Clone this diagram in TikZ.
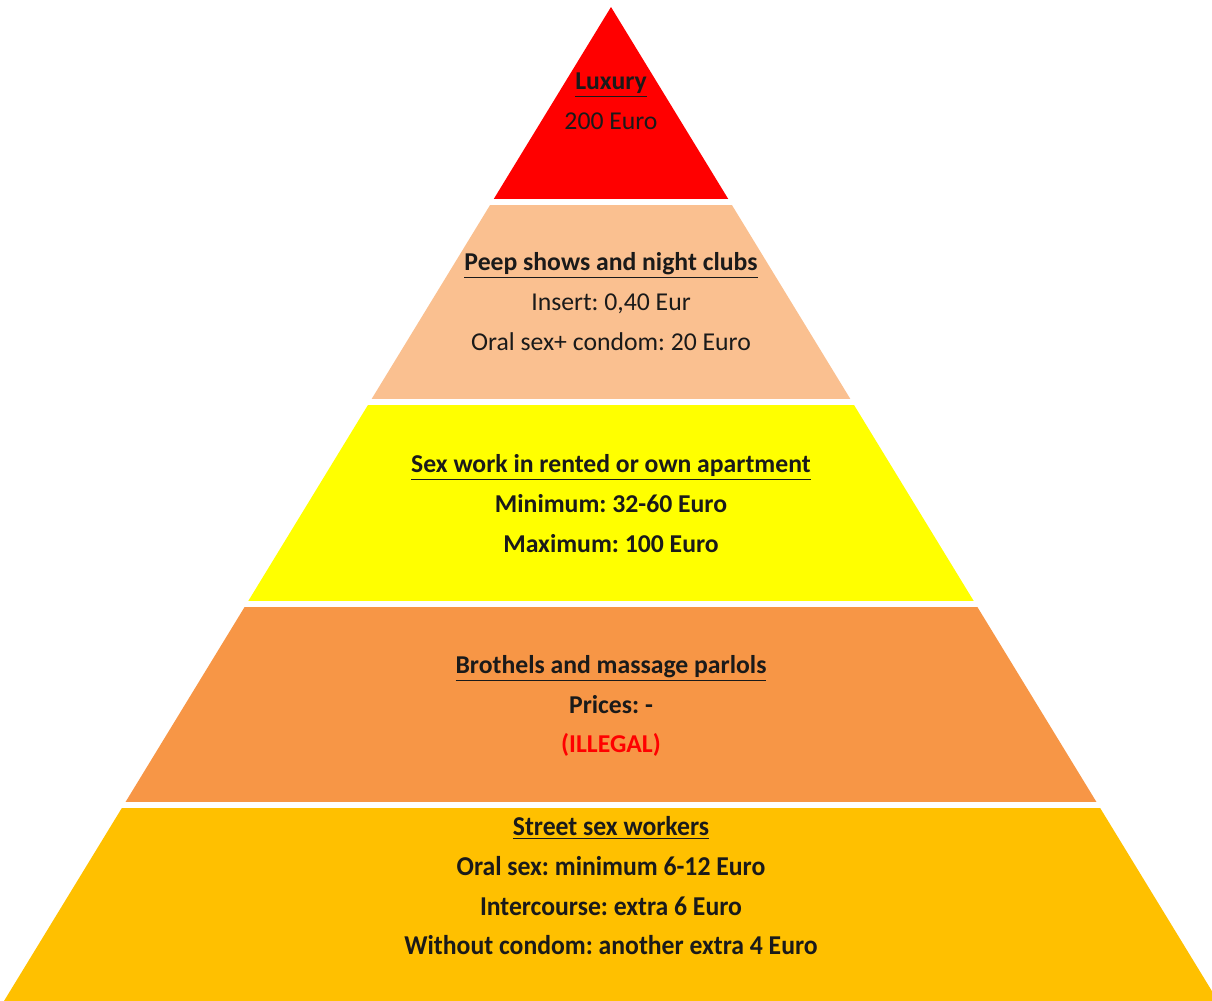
\documentclass[tikz,border=0pt]{standalone}
\usepackage{fontspec}
\setmainfont{Carlito}
\frenchspacing
\definecolor{tierred}{HTML}{FF0000}
\definecolor{tierpeach}{HTML}{FAC090}
\definecolor{tieryellow}{HTML}{FFFF00}
\definecolor{tierorange}{HTML}{F79646}
\definecolor{tiergold}{HTML}{FFC000}
\definecolor{txt}{HTML}{1A1A1A}
\tikzset{
  lbl/.style={anchor=base, inner sep=0pt, text=txt, font=\fontsize{12.85}{15}\selectfont},
  lblb/.style={lbl, font=\fontsize{12.85}{15}\selectfont\bfseries},
  gap/.style={white, line width=3pt}
}
\begin{document}
\begin{tikzpicture}[x=0.5pt,y=-0.5pt]
\useasboundingbox (0,0) rectangle (1212,1001);
\clip (0,0) rectangle (1212,1001);
\begin{scope}
  \clip (611,7) -- (4,1001) -- (1218,1001) -- cycle;
  \fill[tierred] (0,0) rectangle (1212,202);
  \fill[tierpeach] (0,202) rectangle (1212,402);
  \fill[tieryellow] (0,402) rectangle (1212,604);
  \fill[tierorange] (0,604) rectangle (1212,805);
  \fill[tiergold] (0,805) rectangle (1212,1001);
\end{scope}
\draw[gap] (0,201.5) -- (1212,201.5);
\draw[gap] (0,401.5) -- (1212,401.5);
\draw[gap] (0,604) -- (1212,604);
\draw[gap] (0,804.5) -- (1212,804.5);
% tier 1
\node[lblb] (a1) at (611,89.5) {\underline{Luxury}};
\node[lbl]  (a2) at (611,129) {200 Euro};
% tier 2
\node[lblb] (b1) at (611,270) {\underline{Peep shows and night clubs}};
\node[lbl]  (b2) at (611,310) {Insert: 0,40 Eur};
\node[lbl]  (b3) at (611,350) {Oral sex+ condom: 20 Euro};
% tier 3
\node[lblb] (c1) at (611,472.5) {\underline{Sex work in rented or own apartment}};
\node[lblb] (c2) at (611,512.5) {Minimum: 32-60 Euro};
\node[lblb] (c3) at (611,552.5) {Maximum: 100 Euro};
% tier 4
\node[lblb] (d1) at (611,673.5) {\underline{Brothels and massage parlols}};
\node[lblb] (d2) at (611,713.5) {Prices: -};
\node[lblb, text=tierred] (d3) at (611,752.5) {(ILLEGAL)};
% tier 5
\node[lblb] (e1) at (611,835) {\scalebox{1}[1.06]{\underline{Street sex workers}}};
\node[lblb] (e2) at (611,875) {\scalebox{1}[1.06]{Oral sex: minimum  6-12 Euro}};
\node[lblb] (e3) at (611,915) {\scalebox{1}[1.06]{Intercourse: extra 6 Euro}};
\node[lblb] (e4) at (611,954.5) {\scalebox{1}[1.06]{Without condom: another extra 4 Euro}};
\end{tikzpicture}
\end{document}
